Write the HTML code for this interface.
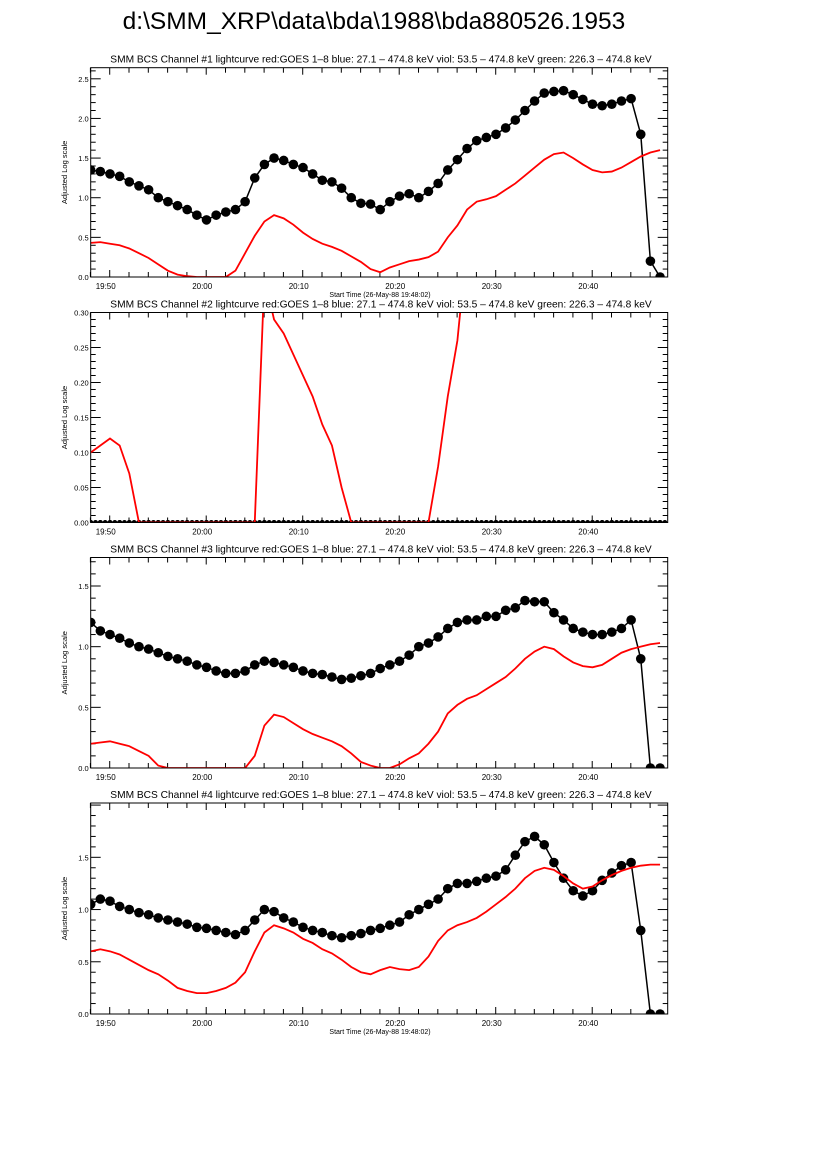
<!DOCTYPE html>
<html><head><meta charset="utf-8"><style>
body{margin:0;background:#fff;}
svg{display:block;font-family:"Liberation Sans",sans-serif;}
</style></head><body>
<svg id="s" width="826" height="1169" viewBox="0 0 826 1169" xmlns="http://www.w3.org/2000/svg">
<rect width="826" height="1169" fill="#fff"/>
<text x="374" y="29" font-size="24.5" text-anchor="middle">d:\SMM_XRP\data\bda\1988\bda880526.1953</text>
</svg>
<script>
const minutes = Array.from({length:60},(_, i)=>i); // minutes after 19:48:02
const xTickLabels = ["19:50","20:00","20:10","20:20","20:30","20:40"];
const xTickMinutes = [1.97,11.97,21.97,31.97,41.97,51.97];

const red1 = [.43,.44,.42,.40,.36,.30,.24,.16,.08,.03,.01,0,0,0,0,.08,.30,.52,.70,.78,.74,.66,.56,.48,.42,.38,.33,.26,.19,.10,.06,.12,.16,.20,.22,.25,.32,.50,.65,.85,.95,.98,1.02,1.10,1.18,1.28,1.38,1.48,1.55,1.57,1.50,1.42,1.35,1.32,1.33,1.38,1.45,1.52,1.57,1.60];
const blk1 = [1.35,1.33,1.30,1.27,1.20,1.15,1.10,1.00,.95,.90,.85,.78,.72,.78,.82,.85,.95,1.25,1.42,1.50,1.47,1.42,1.38,1.30,1.22,1.20,1.12,1.00,.93,.92,.85,.95,1.02,1.05,1.00,1.08,1.18,1.35,1.48,1.62,1.72,1.76,1.80,1.88,1.98,2.10,2.22,2.32,2.34,2.35,2.30,2.24,2.18,2.16,2.18,2.22,2.25,1.80,0.2,0];
const red2 = [.10,.11,.12,.11,.07,0,0,0,0,0,0,0,0,0,0,0,0,0,.35,.29,.27,.24,.21,.18,.14,.11,.05,0,0,0,0,0,0,0,0,0,.08,.18,.26,.40,.6,.7,.8,.9,1,1.1,1.2,1.3,1.35,1.3,1.25,1.2,1.2,1.25,1.3,1.35,1.4,1.42,1.44,1.45];
const blk2 = Array(60).fill(0);
const red3 = [.20,.21,.22,.20,.18,.14,.10,.02,0,0,0,0,0,0,0,0,0,.10,.35,.44,.42,.37,.32,.28,.25,.22,.18,.12,.05,.02,0,0,.03,.08,.12,.20,.30,.45,.52,.57,.60,.65,.70,.75,.82,.90,.96,1.0,.98,.92,.87,.84,.83,.85,.90,.95,.98,1.0,1.02,1.03];
const blk3 = [1.20,1.13,1.10,1.07,1.03,1.0,.98,.95,.92,.90,.88,.85,.83,.80,.78,.78,.80,.85,.88,.87,.85,.83,.80,.78,.77,.75,.73,.74,.76,.78,.82,.85,.88,.93,1.0,1.03,1.08,1.15,1.20,1.22,1.22,1.25,1.25,1.30,1.32,1.38,1.37,1.37,1.28,1.22,1.15,1.12,1.10,1.10,1.12,1.15,1.22,.90,0,0];
const red4 = [.60,.62,.60,.57,.52,.47,.42,.38,.32,.25,.22,.20,.20,.22,.25,.30,.40,.60,.78,.85,.82,.78,.72,.68,.62,.58,.52,.45,.40,.38,.42,.45,.43,.42,.45,.55,.70,.80,.85,.88,.92,.98,1.05,1.12,1.20,1.30,1.37,1.40,1.38,1.32,1.25,1.20,1.22,1.28,1.33,1.37,1.40,1.42,1.43,1.43];
const blk4 = [1.05,1.10,1.08,1.03,1.0,.97,.95,.92,.90,.88,.86,.83,.82,.80,.78,.76,.80,.90,1.0,.98,.92,.88,.83,.80,.78,.75,.73,.75,.77,.80,.82,.85,.88,.95,1.0,1.05,1.10,1.20,1.25,1.25,1.27,1.30,1.32,1.38,1.52,1.65,1.70,1.62,1.45,1.30,1.18,1.13,1.18,1.28,1.35,1.42,1.45,.80,0,0];

const yTicks1 = ["0.0","0.5","1.0","1.5","2.0","2.5"];
const yTicks2 = ["0.00","0.05","0.10","0.15","0.20","0.25","0.30"];
const yTicks3 = ["0.0","0.5","1.0","1.5"];
const yTicks4 = ["0.0","0.5","1.0","1.5"];

const NS="http://www.w3.org/2000/svg";
const svg=document.getElementById('s');
function mk(tag,attrs,parent){const e=document.createElementNS(NS,tag);for(const k in attrs)e.setAttribute(k,attrs[k]);(parent||svg).appendChild(e);return e;}
const L=90.7,R=667.7,TMAX=(R-L)/9.65;
const panels=[
 {n:1,top:67.7,bot:277,ymax:2.64,minor:0.1,red:red1,blk:blk1,ticks:yTicks1,r:4.8},
 {n:2,top:312.5,bot:522.5,ymax:0.30,minor:0.01,red:red2,blk:blk2,ticks:yTicks2,r:2.5},
 {n:3,top:557.5,bot:768,ymax:1.735,minor:0.1,red:red3,blk:blk3,ticks:yTicks3,r:4.8},
 {n:4,top:803,bot:1014,ymax:2.02,minor:0.1,red:red4,blk:blk4,ticks:yTicks4,r:4.8}
];
const title="SMM BCS Channel #N lightcurve  red:GOES 1\u20138  blue: 27.1 \u2013 474.8 keV  viol: 53.5 \u2013 474.8 keV  green: 226.3 \u2013 474.8 keV";
panels.forEach(p=>{
  const g=mk('g',{});
  
  
  const xs=m=>L+(m/TMAX)*(R-L);
  const ys=v=>p.bot-(v/p.ymax)*(p.bot-p.top);
  const t=mk('text',{x:381,y:p.top-5,'font-size':10.2,'text-anchor':'middle','xml:space':'preserve'},g);
  t.textContent=title.replace('#N','#'+p.n);
  
  
  const cid='clip'+p.n;
  const cp=mk('clipPath',{id:cid},g);mk('rect',{x:L,y:p.top,width:R-L,height:p.bot-p.top},cp);
  for(let m=-0.03;m<=TMAX;m+=2){const x=xs(m+0.0);const big=Math.abs(((m+0.03)%10)-2)<0.1;
    mk('line',{x1:x,x2:x,y1:p.bot,y2:p.bot-(big?7:5),stroke:'#000','stroke-width':1},g);
    mk('line',{x1:x,x2:x,y1:p.top,y2:p.top+(big?7:5),stroke:'#000','stroke-width':1},g);}
  xTickLabels.forEach((lab,i)=>{const tt=mk('text',{x:xs(xTickMinutes[i])-4,y:p.bot+12,'font-size':8,'text-anchor':'middle'},g);tt.textContent=lab;
    
    });
  const step=parseFloat(p.ticks[1]);
  for(let v=0;v<=p.ymax+1e-9;v+=p.minor){const y=ys(v);const big=Math.abs(v/step-Math.round(v/step))<1e-6;
    mk('line',{x1:L,x2:L+(big?10:5),y1:y,y2:y,stroke:'#000'},g);
    mk('line',{x1:R,x2:R-(big?10:5),y1:y,y2:y,stroke:'#000'},g);}
  p.ticks.forEach(lab=>{const tt=mk('text',{x:L-2,y:ys(parseFloat(lab))+3,'font-size':7.5,'text-anchor':'end'},g);tt.textContent=lab;
    
    });
  const yl=mk('text',{x:0,y:0,'font-size':7.5,'text-anchor':'middle',transform:`translate(67,${(p.top+p.bot)/2}) rotate(-90)`},g);
  yl.textContent='Adjusted Log scale';
  
  
  if(p.n===1||p.n===4){const xl=mk('text',{x:380,y:p.bot+20,'font-size':7,'text-anchor':'middle'},g);xl.textContent='Start Time (26-May-88 19:48:02)';
    
    }
  const cg=mk('g',{'clip-path':`url(#${cid})`},g);
  const bl=mk('polyline',{points:p.blk.map((v,i)=>xs(minutes[i])+','+ys(v)).join(' '),fill:'none',stroke:'#000','stroke-width':1.5},cg);
  
  
  p.blk.forEach((v,i)=>{const c=mk('circle',{cx:xs(minutes[i]),cy:ys(v),r:p.r,fill:'#000'},cg);
    
    });
  if(p.n===2){for(let m=0;m<=TMAX;m+=0.5){mk('circle',{cx:xs(m),cy:ys(0),r:2.5,fill:'#000'},cg);}}
  const rl=mk('polyline',{points:p.red.map((v,i)=>xs(minutes[i])+','+ys(v)).join(' '),fill:'none',stroke:'#f00','stroke-width':1.8},cg);
  
  
  const fr=mk('rect',{x:L,y:p.top,width:R-L,height:p.bot-p.top,fill:'none',stroke:'#000','stroke-width':1},g);
  
  
});
</script>
</body></html>
